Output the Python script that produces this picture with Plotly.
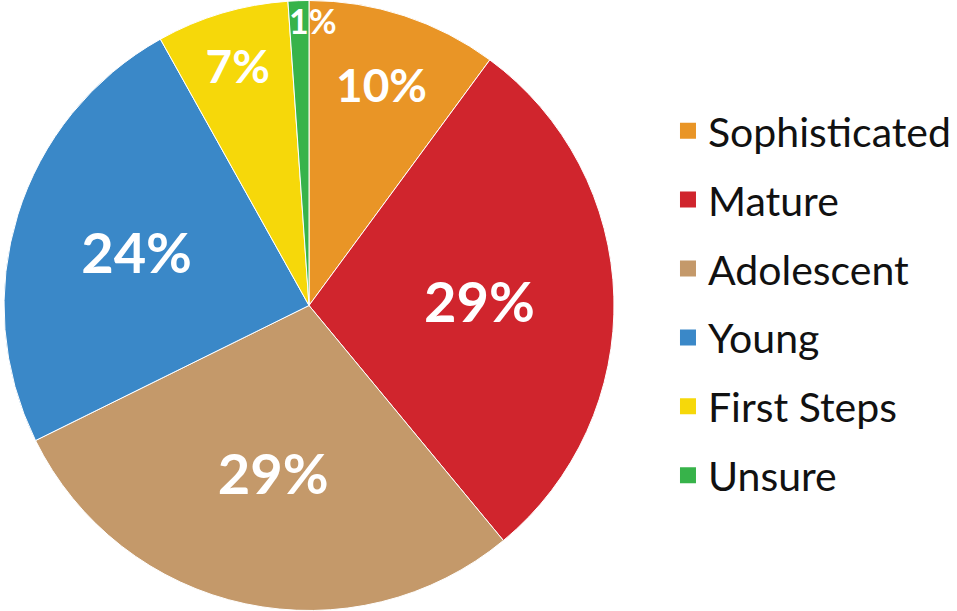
import plotly.graph_objects as go

categories = ["Sophisticated", "Mature", "Adolescent", "Young", "First Steps", "Unsure"]
values = [10.1, 28.9, 28.7, 24.2, 7.0, 1.1]
colors = ["#E99526", "#D0252D", "#C4996A", "#3A88C8", "#F6D80A", "#37B34A"]

FONT = "Source Sans Pro, Lato, Noto Sans, sans-serif"

total = sum(values)
pct_labels = [f"{round(v / total * 100)}%" for v in values]
# the smallest slice's label is drawn as an annotation so it is not shrunk
slice_text = pct_labels[:-1] + [""]
text_sizes = [46, 56, 56, 56, 46, 34]

fig = go.Figure()
fig.add_trace(go.Pie(
    labels=categories,
    values=values,
    sort=False,
    direction="clockwise",
    rotation=0,
    marker=dict(colors=colors, line=dict(color="white", width=1)),
    text=slice_text,
    textinfo="text",
    textposition="inside",
    insidetextorientation="horizontal",
    textfont=dict(family=FONT, size=text_sizes, color="white", weight="bold"),
    showlegend=False,
    hoverinfo="label+percent",
    domain=dict(x=[4 / 957, 614 / 957], y=[0, 1]),
))

for cat, col in zip(categories, colors):
    fig.add_trace(go.Scatter(
        x=[None], y=[None], mode="markers",
        marker=dict(symbol="square", size=17, color=col),
        name=cat, legendgroup=cat, showlegend=True,
    ))

fig.add_annotation(
    x=313 / 957, y=1 - 20 / 611, xref="paper", yref="paper",
    text=pct_labels[-1], showarrow=False,
    font=dict(family=FONT, size=34, color="white", weight="bold"),
    xanchor="center", yanchor="middle",
)

fig.update_layout(
    width=957, height=611,
    margin=dict(l=0, r=0, t=0, b=0),
    paper_bgcolor="white",
    plot_bgcolor="white",
    xaxis=dict(visible=False),
    yaxis=dict(visible=False),
    legend=dict(
        x=0.698, y=0.504, xanchor="left", yanchor="middle",
        font=dict(family=FONT, size=41, color="#111111"),
        tracegroupgap=12.6,
        bgcolor="rgba(0,0,0,0)",
    ),
)

fig.write_html(
    "out.html",
    config={"displayModeBar": False},
    post_script="document.body.style.margin='0';",
)
